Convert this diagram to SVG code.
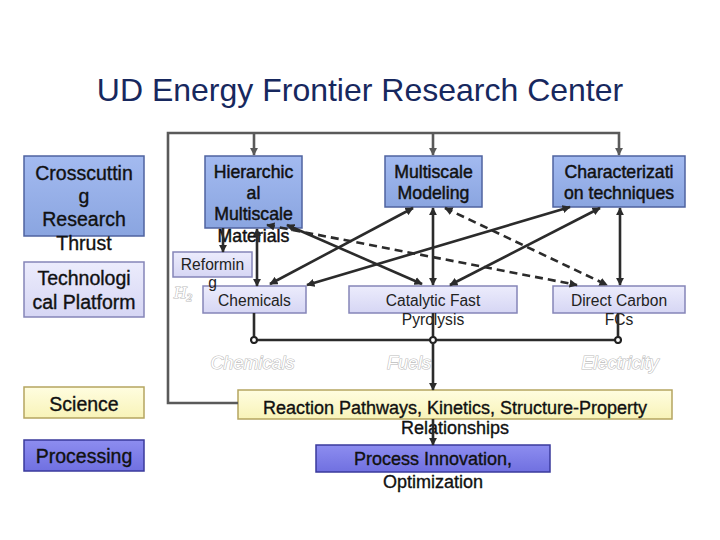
<svg xmlns="http://www.w3.org/2000/svg" width="720" height="540" viewBox="0 0 720 540">
<defs>
<linearGradient id="gBlue" x1="0" y1="0" x2="0" y2="1"><stop offset="0" stop-color="#a3baf0"/><stop offset="1" stop-color="#8aa5e0"/></linearGradient>
<linearGradient id="gLav" x1="0" y1="0" x2="0" y2="1"><stop offset="0" stop-color="#ececfc"/><stop offset="1" stop-color="#d6d6f4"/></linearGradient>
<linearGradient id="gYel" x1="0" y1="0" x2="0" y2="1"><stop offset="0" stop-color="#fffde0"/><stop offset="1" stop-color="#f8f3b8"/></linearGradient>
<linearGradient id="gPur" x1="0" y1="0" x2="0" y2="1"><stop offset="0" stop-color="#8d8df0"/><stop offset="1" stop-color="#7070e0"/></linearGradient>
<marker id="ah" viewBox="0 0 10 10" refX="9" refY="5" markerWidth="3.2" markerHeight="3.2" orient="auto-start-reverse"><path d="M0,0 L10,5 L0,10 z" fill="#2b2b2b"/></marker>
<marker id="ahg" viewBox="0 0 10 10" refX="9" refY="5" markerWidth="3.2" markerHeight="3.2" orient="auto-start-reverse"><path d="M0,0 L10,5 L0,10 z" fill="#5a5a5a"/></marker>
<marker id="dot" viewBox="0 0 10 10" refX="5" refY="5" markerWidth="3.2" markerHeight="3.2"><circle cx="5" cy="5" r="3.6" fill="#fff" stroke="#222" stroke-width="2.6"/></marker>
</defs>
<style>
text{font-family:"Liberation Sans",Arial,sans-serif;text-anchor:middle;fill:#111}
.blue{fill:url(#gBlue);stroke:#4f63a0;stroke-width:1.5}
.lav{fill:url(#gLav);stroke:#8585b8;stroke-width:1.5}
.yel{fill:url(#gYel);stroke:#b5a560;stroke-width:1.5}
.pur{fill:url(#gPur);stroke:#3a3a9c;stroke-width:1.5}
.t19{font-size:19.5px;stroke:#111;stroke-width:0.35}
.t18{font-size:17.7px;stroke:#111;stroke-width:0.45}
.t16{font-size:15.6px;fill:#222}
.rx{font-size:18px;stroke:#111;stroke-width:0.35}
.emb{font-size:18px;font-style:italic;fill:#fff;stroke:#bdbdbd;stroke-width:1.2;paint-order:stroke}
.ln{fill:none;stroke:#2b2b2b;stroke-width:2.6}
.da{stroke-dasharray:8 5}
.gl{fill:none;stroke:#5a5a5a;stroke-width:2.6}
</style>
<rect width="720" height="540" fill="#fff"/>
<text x="360" y="101" font-size="32" style="fill:#17285e">UD Energy Frontier Research Center</text>

<g id="crosscutting">
<rect class="blue" x="24" y="156" width="120" height="80"/>
<text class="t19" x="84" y="180">Crosscuttin</text>
<text class="t19" x="84" y="203">g</text>
<text class="t19" x="84" y="226">Research</text>
<text class="t19" x="84" y="250">Thrust</text>
</g>
<g id="technological">
<rect class="lav" x="24" y="262" width="120" height="55"/>
<text class="t19" x="84" y="285">Technologi</text>
<text class="t19" x="84" y="309">cal Platform</text>
</g>
<g id="science">
<rect class="yel" x="24" y="387" width="120" height="31"/>
<text class="t19" x="84" y="411">Science</text>
</g>
<g id="processing">
<rect class="pur" x="24" y="440" width="120" height="31"/>
<text class="t19" x="84" y="463">Processing</text>
</g>

<g id="hierarchical">
<rect class="blue" x="205" y="156" width="97" height="72"/>
<text class="t18" x="253.5" y="177.5">Hierarchic</text>
<text class="t18" x="253.5" y="199">al</text>
<text class="t18" x="253.5" y="220">Multiscale</text>
<text class="t18" x="253.5" y="242">Materials</text>
</g>
<g id="modeling">
<rect class="blue" x="385" y="156" width="97" height="51"/>
<text class="t18" x="433.5" y="178">Multiscale</text>
<text class="t18" x="433.5" y="199">Modeling</text>
</g>
<g id="characterization">
<rect class="blue" x="553" y="156" width="132" height="51"/>
<text class="t18" x="619" y="178">Characterizati</text>
<text class="t18" x="619" y="199">on techniques</text>
</g>

<g id="chemicals">
<rect class="lav" x="203" y="286" width="103" height="27"/>
<text class="t16" x="254.5" y="306">Chemicals</text>
</g>
<g id="reforming">
<rect class="lav" x="173" y="252" width="79" height="25"/>
<text class="t16" x="212.5" y="269.5">Reformin</text>
<text class="t16" x="212.5" y="288">g</text>
</g>
<g id="h2">
<text class="emb" x="183" y="298" style="font-family:'Liberation Serif',serif;font-size:17px">H<tspan dy="3" font-size="11">2</tspan></text>
</g>
<g id="catalytic">
<rect class="lav" x="349" y="286" width="168" height="27"/>
<text class="t16" x="433" y="306">Catalytic Fast</text>
<text class="t16" x="433" y="325">Pyrolysis</text>
</g>
<g id="directcarbon">
<rect class="lav" x="553" y="286" width="132" height="27"/>
<text class="t16" x="619" y="306">Direct Carbon</text>
<text class="t16" x="619" y="325">FCs</text>
</g>

<g id="labels">
<text class="emb" x="252.5" y="369">Chemicals</text>
<text class="emb" x="409" y="369">Fuels</text>
<text class="emb" x="620" y="369">Electricity</text>
</g>

<g id="reaction">
<rect class="yel" x="238" y="390" width="434" height="29"/>
<text class="rx" x="455" y="413.5">Reaction Pathways, Kinetics, Structure-Property</text>
<text class="rx" x="455" y="434">Relationships</text>
</g>
<g id="innovation">
<rect class="pur" x="316" y="445" width="234" height="27"/>
<text class="rx" x="433" y="465">Process Innovation,</text>
<text class="rx" x="433" y="488">Optimization</text>
</g>

<g id="connectors">
<path class="gl" d="M238,403 H168 V133 H619 V155" marker-end="url(#ahg)"/>
<path class="gl" d="M254,133 V155" marker-end="url(#ahg)"/>
<path class="gl" d="M433,133 V155" marker-end="url(#ahg)"/>

<path class="ln" d="M223,228 V252" marker-end="url(#ah)"/>
<path class="ln" d="M257,229 V286" marker-start="url(#ah)" marker-end="url(#ah)"/>
<path class="ln" d="M270,284 L413,208" marker-start="url(#ah)" marker-end="url(#ah)"/>
<path class="ln" d="M307,285 L570,207" marker-start="url(#ah)" marker-end="url(#ah)"/>
<path class="ln" d="M287,225 L422,284" marker-start="url(#ah)" marker-end="url(#ah)"/>
<path class="ln da" d="M267,225 L577,285" marker-start="url(#ah)" marker-end="url(#ah)"/>
<path class="ln" d="M433,208 V285" marker-start="url(#ah)" marker-end="url(#ah)"/>
<path class="ln da" d="M445,208 L607,285" marker-start="url(#ah)" marker-end="url(#ah)"/>
<path class="ln" d="M600,208 L450,285" marker-start="url(#ah)" marker-end="url(#ah)"/>
<path class="ln" d="M620,208 V285" marker-start="url(#ah)" marker-end="url(#ah)"/>

<path class="ln" d="M254,340 H618"/>
<path class="ln" d="M254,313 V340" marker-end="url(#dot)"/>
<path class="ln" d="M433,313 V340" marker-end="url(#dot)"/>
<path class="ln" d="M618,313 V340" marker-end="url(#dot)"/>
<path class="ln" d="M433,342 V390" marker-end="url(#ah)"/>
<path class="ln" d="M433,419 V445" marker-end="url(#ah)"/>
</g>
</svg>
